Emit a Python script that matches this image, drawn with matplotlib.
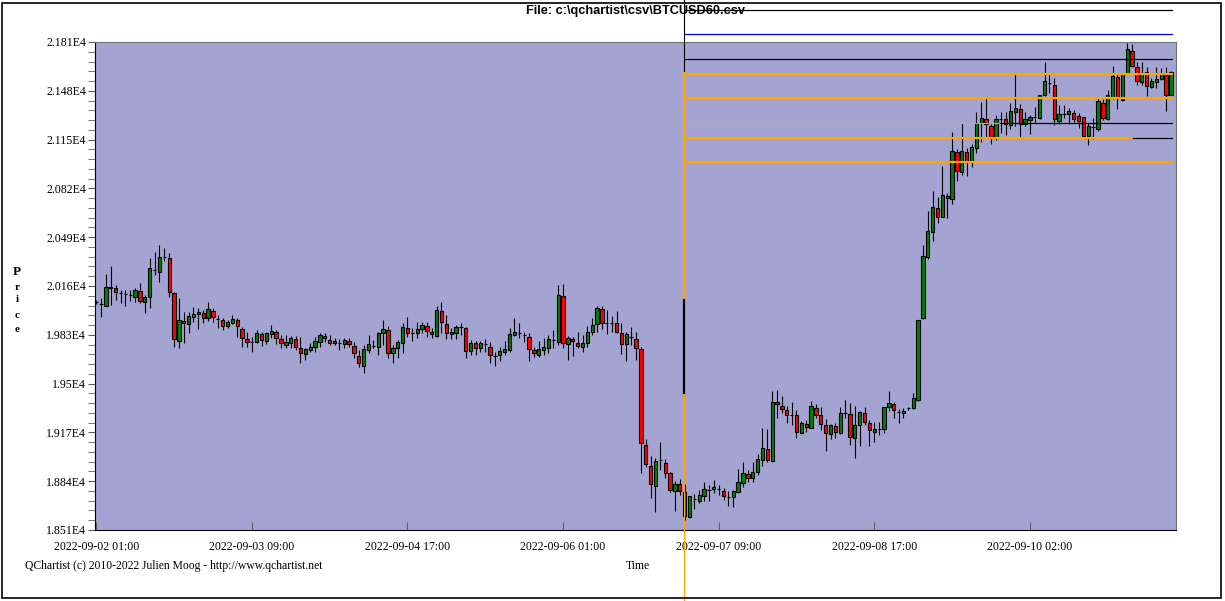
import numpy as np
import matplotlib.pyplot as plt
from matplotlib.patches import Rectangle

# === DATOS (BTCUSD 60 min) ===
opens = [20050, 20040, 20027, 20148, 20144, 20112, 20104, 20099, 20083, 20126,
         20054, 20083, 20268, 20257, 20354, 20347, 20110, 19790, 19921, 19901,
         19953, 19968, 19977, 19941, 19991, 19939, 19930, 19892, 19912, 19930,
         19867, 19802, 19784, 19784, 19833, 19790, 19835, 19847, 19799, 19761,
         19777, 19802, 19738, 19698, 19727, 19745, 19784, 19822, 19795, 19772,
         19777, 19765, 19788, 19754, 19687, 19621, 19727, 19757, 19745, 19840,
         19862, 19705, 19739, 19777, 19874, 19840, 19840, 19872, 19890, 19847,
         19824, 19991, 19901, 19833, 19844, 19880, 19874, 19718, 19772, 19743,
         19765, 19750, 19686, 19693, 19716, 19727, 19829, 19840, 19829, 19813,
         19727, 19695, 19727, 19743, 19795, 19783, 20092, 19768, 19801, 19772,
         19750, 19772, 19849, 19901, 20002, 19907, 19907, 19907, 19840, 19768,
         19817, 19799, 19732, 19085, 18943, 18810, 18983, 18961, 18893, 18776,
         18821, 18765, 18600, 18720, 18708, 18742, 18781, 18785, 18787, 18771,
         18731, 18731, 18769, 18830, 18889, 18859, 18905, 18983, 19056, 18979,
         19373, 19348, 19321, 19288, 19288, 19168, 19225, 19202, 19333, 19288,
         19220, 19159, 19213, 19168, 19299, 19292, 19134, 19220, 19299, 19231,
         19175, 19191, 19191, 19340, 19360, 19310, 19299, 19333, 19333, 19389,
         19941, 20358, 20527, 20685, 20624, 20768, 20746, 21064, 20933, 21064,
         21001, 21095, 21264, 21287, 21242, 21163, 21289, 21287, 21249, 21339,
         21354, 21253, 21282, 21300, 21298, 21449, 21535, 21519, 21278, 21321,
         21321, 21332, 21310, 21300, 21174, 21233, 21222, 21400, 21287, 21440,
         21571, 21418, 21603, 21751, 21639, 21542, 21609, 21503, 21542, 21557,
         21587, 21451]
highs = [20065, 20077, 20241, 20295, 20167, 20133, 20133, 20133, 20144, 20178,
         20099, 20347, 20392, 20437, 20415, 20381, 20122, 20077, 19986, 19986,
         20020, 20009, 19998, 20054, 20009, 19964, 19946, 19930, 19964, 19941,
         19880, 19847, 19813, 19862, 19851, 19851, 19896, 19862, 19829, 19829,
         19822, 19822, 19813, 19739, 19777, 19817, 19844, 19840, 19829, 19806,
         19799, 19811, 19806, 19784, 19727, 19761, 19829, 19795, 19851, 19930,
         19890, 19761, 19795, 19908, 19948, 19874, 19914, 19914, 19919, 19874,
         20027, 20052, 19964, 19874, 19896, 19907, 19885, 19795, 19790, 19790,
         19799, 19783, 19716, 19745, 19788, 19874, 19941, 19907, 19847, 19840,
         19750, 19788, 19806, 19828, 19862, 20167, 20173, 19822, 19817, 19846,
         19828, 19889, 19941, 20025, 20025, 19997, 19957, 19991, 19907, 19851,
         19885, 19851, 19745, 19123, 19010, 18995, 19103, 18988, 18905, 18844,
         18853, 18821, 18740, 18751, 18781, 18832, 18814, 18848, 18814, 18792,
         18774, 18781, 18920, 18968, 18916, 18968, 19022, 19198, 19193, 19450,
         19457, 19416, 19348, 19378, 19322, 19247, 19254, 19382, 19360, 19344,
         19258, 19227, 19231, 19344, 19389, 19367, 19349, 19315, 19344, 19254,
         19243, 19243, 19344, 19450, 19378, 19328, 19333, 19344, 19439, 19930,
         20437, 20667, 20802, 20764, 20971, 20786, 21203, 21084, 21260, 21091,
         21120, 21339, 21406, 21440, 21255, 21316, 21334, 21339, 21399, 21591,
         21388, 21339, 21316, 21372, 21449, 21677, 21591, 21564, 21384, 21384,
         21361, 21350, 21327, 21305, 21260, 21294, 21440, 21422, 21485, 21648,
         21598, 21603, 21801, 21796, 21672, 21672, 21643, 21564, 21643, 21632,
         21643, 21616]
lows = [20040, 19948, 20027, 20031, 20065, 20047, 20027, 20058, 20054, 20043,
        19980, 20013, 20234, 20189, 20331, 20083, 19750, 19743, 19772, 19844,
        19919, 19867, 19912, 19923, 19919, 19878, 19862, 19874, 19901, 19813,
        19745, 19745, 19716, 19772, 19756, 19768, 19811, 19765, 19739, 19739,
        19743, 19727, 19642, 19660, 19716, 19716, 19750, 19784, 19761, 19761,
        19727, 19739, 19750, 19671, 19610, 19574, 19705, 19739, 19694, 19761,
        19675, 19642, 19675, 19709, 19817, 19790, 19806, 19844, 19817, 19806,
        19817, 19840, 19799, 19799, 19799, 19828, 19671, 19693, 19693, 19716,
        19716, 19641, 19619, 19655, 19693, 19716, 19822, 19806, 19783, 19655,
        19682, 19677, 19693, 19704, 19738, 19761, 19738, 19659, 19686, 19743,
        19716, 19750, 19828, 19851, 19867, 19833, 19851, 19840, 19698, 19655,
        19761, 19659, 18893, 18934, 18729, 18634, 18916, 18859, 18765, 18639,
        18747, 18578, 18593, 18652, 18695, 18708, 18708, 18758, 18747, 18713,
        18675, 18663, 18758, 18803, 18832, 18837, 18882, 18945, 18972, 18972,
        19265, 19303, 19236, 19220, 19135, 19168, 19175, 19198, 19265, 19186,
        19047, 19126, 19130, 19159, 19265, 19085, 18999, 19078, 19220, 19078,
        19108, 19153, 19168, 19317, 19270, 19236, 19270, 19322, 19328, 19382,
        19935, 20340, 20466, 20584, 20624, 20622, 20712, 20872, 20910, 20906,
        20962, 21057, 21136, 21165, 21120, 21147, 21197, 21181, 21219, 21244,
        21158, 21242, 21188, 21271, 21287, 21445, 21467, 21249, 21255, 21294,
        21255, 21271, 21226, 21158, 21113, 21152, 21208, 21282, 21282, 21422,
        21355, 21413, 21598, 21638, 21519, 21519, 21445, 21497, 21497, 21553,
        21346, 21451]
closes = [20055, 20038, 20151, 20151, 20122, 20110, 20104, 20099, 20133, 20061,
          20088, 20279, 20268, 20354, 20354, 20122, 19799, 19930, 19907, 19955,
          19971, 19984, 19946, 20004, 19953, 19939, 19892, 19914, 19937, 19892,
          19811, 19784, 19784, 19840, 19795, 19840, 19856, 19811, 19772, 19779,
          19806, 19750, 19705, 19732, 19745, 19788, 19829, 19806, 19777, 19788,
          19777, 19795, 19768, 19705, 19637, 19732, 19766, 19757, 19840, 19867,
          19709, 19743, 19784, 19881, 19840, 19840, 19867, 19896, 19858, 19833,
          19998, 19914, 19840, 19849, 19881, 19880, 19718, 19772, 19743, 19772,
          19765, 19693, 19686, 19718, 19734, 19833, 19849, 19840, 19829, 19736,
          19709, 19731, 19745, 19801, 19795, 20099, 19772, 19806, 19786, 19756,
          19772, 19849, 19896, 20009, 19912, 19907, 19907, 19851, 19768, 19835,
          19817, 19743, 19096, 18954, 18819, 18977, 18983, 18898, 18781, 18821,
          18776, 18607, 18740, 18720, 18747, 18785, 18781, 18799, 18787, 18742,
          18731, 18771, 18832, 18893, 18864, 18900, 18988, 19062, 18983, 19373,
          19360, 19330, 19288, 19288, 19175, 19231, 19209, 19349, 19288, 19227,
          19168, 19220, 19175, 19299, 19299, 19141, 19220, 19310, 19243, 19184,
          19193, 19191, 19340, 19367, 19322, 19310, 19315, 19333, 19400, 19930,
          20363, 20532, 20692, 20629, 20775, 20753, 21073, 20940, 21073, 21007,
          21097, 21260, 21293, 21253, 21170, 21287, 21289, 21253, 21343, 21361,
          21255, 21287, 21300, 21300, 21449, 21546, 21535, 21287, 21323, 21321,
          21343, 21287, 21278, 21174, 21242, 21233, 21411, 21294, 21451, 21580,
          21429, 21598, 21760, 21650, 21548, 21603, 21512, 21546, 21560, 21591,
          21452, 21605]

fechas = ['2022-09-02 01:00', '2022-09-03 09:00', '2022-09-04 17:00',
          '2022-09-06 01:00', '2022-09-07 09:00', '2022-09-08 17:00',
          '2022-09-10 02:00']
pos_fechas = [0, 32, 64, 96, 128, 160, 192]

# niveles horizontales dibujados desde la vela minima (tramos: inicio, fin, color)
niveles = [22026, 21864, 21693, 21592, 21429, 21260, 21260, 21159, 21159, 21000]
inicio_niveles = [121.1, 121.1, 121.1, 121.1, 121.1, 121.1, 185.9, 121.1, 213.2, 121.1]
fin_niveles = [221.3, 221.3, 221.3, 221.3, 221.3, 185.9, 221.3, 213.2, 221.3, 221.3]
colores_niveles = ['black', 'blue', 'black', 'orange', 'orange', 'orange', 'black',
                   'orange', 'black', 'orange']
grosor_niveles = [0.9, 0.9, 0.9, 1.6, 1.6, 0.8, 0.9, 1.6, 0.9, 1.6]

# linea vertical en la vela minima: tramos en precio
vert_x = 120.8
vert_tramos = [(22130, 21600, 'black', 0.8), (21600, 20065, 'orange', 1.6),
               (20065, 19423, 'black', 1.6), (19423, 18896, 'orange', 1.6),
               (18896, 18030, 'orange', 0.8)]

# === FIGURA ===
W, H = 1225, 601
fig = plt.figure(figsize=(W / 100, H / 100), dpi=100)
fig.patch.set_facecolor('white')
ax = fig.add_axes([95 / W, (H - 530) / H, 1081 / W, 488 / H])
ax.set_facecolor('#a4a4d2')

o = np.array(opens)
c = np.array(closes)
x = np.arange(len(o))
colores = np.where(c >= o, '#008000', '#ff0000')

ax.vlines(x, lows, highs, color='black', lw=0.8, zorder=2)
ax.bar(x, np.abs(c - o), bottom=np.minimum(o, c), width=0.68,
       color=colores, edgecolor='black', linewidth=0.8, zorder=3)

ymin, ymax = 18510, 21810
ax.set_ylim(ymin, ymax)
ax.set_xlim(-0.25, -0.25 + 1081 / 4.863)

yt = np.arange(ymin, ymax + 1, 330)
ax.set_yticks(yt)
ax.set_yticklabels([('%.3f' % (v / 1e4)).rstrip('0').rstrip('.') + 'E4' for v in yt],
                   family='Liberation Serif', fontsize=8.6)
ax.set_yticks(np.arange(ymin, ymax + 1, 66), minor=True)
ax.set_xticks(pos_fechas)
ax.set_xticklabels(fechas, family='Liberation Serif', fontsize=8.5)
ax.tick_params(axis='y', which='both', direction='out', length=5, color='#606060', pad=1.5)
ax.tick_params(axis='x', direction='in', length=6, color='#606060', pad=8)

for lado in ['top', 'right']:
    ax.spines[lado].set_color('#707070')
for lado in ['left', 'bottom']:
    ax.spines[lado].set_color('black')

# niveles
for nivel, xa, xb, col, lw in zip(niveles, inicio_niveles, fin_niveles, colores_niveles, grosor_niveles):
    ax.plot([xa, xb], [nivel, nivel], color=col, lw=lw, clip_on=False, zorder=4)

# linea vertical
for pa, pb, col, lw in vert_tramos:
    ax.plot([vert_x, vert_x], [pa, pb], color=col, lw=lw, clip_on=False, zorder=5)

# textos
fig.text(636 / W, 1 - 11 / H, r'File: c:\qchartist\csv\BTCUSD60.csv', ha='center', va='center',
         family='Liberation Sans', fontweight='bold', fontsize=9.2)
letras = ['P', 'r', 'i', 'c', 'e']
ys_letras = [272, 287, 300, 315, 329]
for letra, yl in zip(letras, ys_letras):
    fig.text(17 / W, 1 - yl / H, letra, ha='center', va='center',
             family='Liberation Serif', fontweight='bold',
             fontsize=9.5 if letra == 'P' else 8)
fig.text(25 / W, 1 - 566 / H, 'QChartist (c) 2010-2022 Julien Moog - http://www.qchartist.net',
         ha='left', va='center', family='Liberation Serif', fontsize=8.4)
fig.text(638 / W, 1 - 566 / H, 'Time', ha='center', va='center',
         family='Liberation Serif', fontsize=8.4)

fig.patches.append(Rectangle((2 / W, 3 / H), 1219 / W, 595 / H, transform=fig.transFigure,
                             fill=False, edgecolor='black', lw=1.2))

fig.savefig('out.png', dpi=100)
